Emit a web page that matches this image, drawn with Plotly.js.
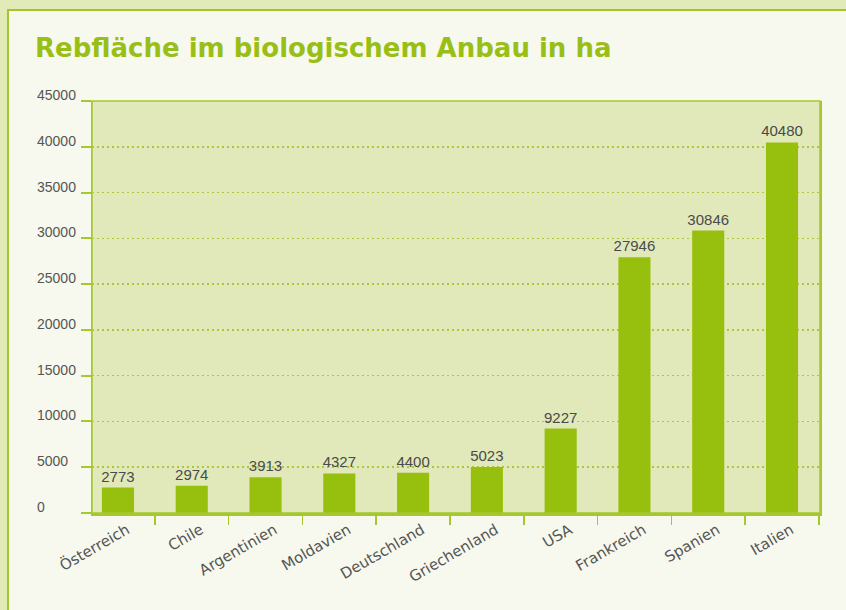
<!DOCTYPE html>
<html>
<head>
<meta charset="utf-8">
<script src="https://cdn.plot.ly/plotly-3.0.1.min.js"></script>
<style>
  html, body { margin:0; padding:0; width:846px; height:610px; overflow:hidden; background:#e2eab8; }
  #panel { position:absolute; left:7px; top:9px; width:850px; height:620px; background:#f7f9ee;
           border-left:2px solid #a2c62b; border-top:2px solid #a2c62b; }
  #chart { position:absolute; left:0; top:0; width:846px; height:610px; }
</style>
</head>
<body>
<div id="panel"></div>
<div id="chart"></div>
<script>
const categories = ["Österreich", "Chile", "Argentinien", "Moldavien", "Deutschland", "Griechenland", "USA", "Frankreich", "Spanien", "Italien"];
const values = [2773, 2974, 3913, 4327, 4400, 5023, 9227, 27946, 30846, 40480];
const yTickValues = [0, 5000, 10000, 15000, 20000, 25000, 30000, 35000, 40000, 45000];
const yTickLabels = ["0", "5000", "10000", "15000", "20000", "25000", "30000", "35000", "40000", "45000"];
const titleText = "Rebfläche im biologischem Anbau in ha";

const green = "#97bf0d";
const lineGreen = "#a4c82e";

const trace = {
  type: "bar",
  x: categories,
  y: values,
  marker: { color: green },
  text: values.map(String),
  textposition: "outside",
  constraintext: "none",
  cliponaxis: false,
  textfont: { family: "Liberation Sans, Arial, sans-serif", size: 15, color: "#4a4a4a" },
  hoverinfo: "x+y"
};

// left-aligned y tick labels, sitting just above each gridline
const yLabelAnnotations = yTickValues.map((v, i) => ({
  xref: "paper", yref: "y",
  x: -56 / 728, xanchor: "left",
  y: v, yanchor: "bottom", yshift: -3,
  text: yTickLabels[i], showarrow: false,
  borderpad: 0,
  font: { family: "Liberation Sans, Arial, sans-serif", size: 14, color: "#555555" }
}));

const layout = {
  width: 846, height: 610,
  margin: { l: 92, r: 26, t: 101, b: 97 },
  paper_bgcolor: "rgba(0,0,0,0)",
  plot_bgcolor: "#e1e9bb",
  bargap: 0.565,
  showlegend: false,
  title: {
    text: "<b>" + titleText + "</b>",
    x: 35 / 846, xanchor: "left",
    y: 1 - 48 / 610, yanchor: "middle",
    font: { family: "DejaVu Sans, sans-serif", size: 26, color: "#99bf16" }
  },
  xaxis: {
    type: "category",
    range: [-0.352, 9.515],
    tickangle: -30,
    tickson: "boundaries",
    ticklabelshift: 9,
    ticks: "outside", ticklen: 9, tickwidth: 1.5, tickcolor: lineGreen,
    showline: true, linecolor: lineGreen, linewidth: 2.5,
    showgrid: false,
    tickfont: { family: "DejaVu Sans, sans-serif", size: 15, color: "#555555" }
  },
  yaxis: {
    range: [0, 45000],
    tickvals: yTickValues,
    showticklabels: false,
    ticks: "outside", ticklen: 10, tickwidth: 2, tickcolor: lineGreen,
    showline: true, linecolor: lineGreen, linewidth: 1.5, mirror: true,
    showgrid: true, gridcolor: "#aac839", griddash: "2px,3px", gridwidth: 1.5,
    zeroline: false
  },
  annotations: yLabelAnnotations,
  shapes: [{
    type: "rect", xref: "paper", yref: "paper", x0: 0, x1: 1, y0: 0, y1: 1,
    line: { color: lineGreen, width: 1.5 }, fillcolor: "rgba(0,0,0,0)", layer: "above"
  }]
};

Plotly.newPlot("chart", [trace], layout, { displayModeBar: false, staticPlot: true });
</script>
</body>
</html>
